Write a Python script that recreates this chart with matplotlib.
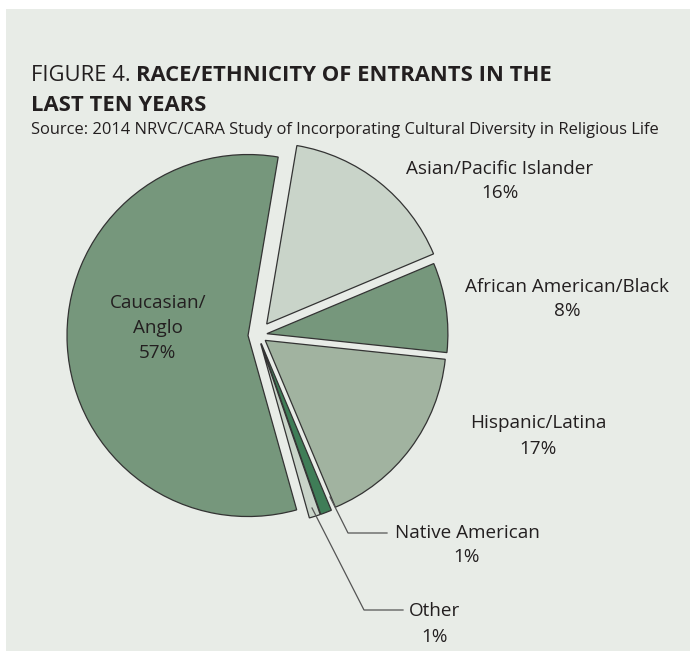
import matplotlib.pyplot as plt

# data, clockwise from the top
labels = ["Asian/Pacific Islander", "African American/Black", "Hispanic/Latina",
          "Native American", "Other", "Caucasian/\nAnglo"]
shares = [16, 8, 17, 1, 1, 57]
colors = ["#c9d4c9", "#76977c", "#a1b3a0", "#3f7d57", "#c9d4c9", "#76977c"]

BG = "#e8ece7"
INK = "#231f20"
W, H = 695, 651

plt.rcParams["font.family"] = ["Open Sans", "DejaVu Sans"]

fig = plt.figure(figsize=(W / 100, H / 100), dpi=100, facecolor="white")
fig.patches.append(plt.Rectangle((6 / W, 0), (690 - 6) / W, (H - 9) / H,
                                 transform=fig.transFigure, facecolor=BG,
                                 edgecolor="none", zorder=-5))

ax = fig.add_axes([0, 0, 1, 1])
ax.axis("off")

ax.pie(shares, colors=colors, startangle=80.4, counterclock=False,
       center=(258, H - 335), radius=181,
       explode=[14, 9, 9, 9, 9, 10],
       wedgeprops=dict(edgecolor="#333333", linewidth=0.9))
ax.set_xlim(0, W)
ax.set_ylim(0, H)
ax.set_aspect("auto")

lab_kw = dict(ha="center", va="center", fontsize=13.6, color=INK, linespacing=1.5)
ax.text(158, H - 328, f"{labels[5]}\n{shares[5]}%", **lab_kw)
ax.text(500, H - 181, f"{labels[0]}\n{shares[0]}%", **lab_kw)
ax.text(567, H - 299, f"{labels[1]}\n{shares[1]}%", **lab_kw)
ax.text(538, H - 436, f"{labels[2]}\n{shares[2]}%", **lab_kw)
ax.text(467, H - 545, f"{labels[3]}\n{shares[3]}%", **lab_kw)
ax.text(435, H - 624, f"{labels[4]}\n{shares[4]}%", **lab_kw)

# leader lines
ax.plot([330, 348, 387], [H - 497, H - 533, H - 533], color="#555555", lw=0.9)
ax.plot([312, 364, 403], [H - 508, H - 610, H - 610], color="#555555", lw=0.9)

# title
t1 = fig.text(31 / W, 1 - 81 / H, "FIGURE 4. ", fontsize=15.8, color=INK)
ax.annotate("RACE/ETHNICITY OF ENTRANTS IN THE", xy=(1, 0), xycoords=t1,
            fontsize=15.8, fontweight="bold", color=INK, va="bottom")
fig.text(31 / W, 1 - 111 / H, "LAST TEN YEARS", fontsize=15.8,
         fontweight="bold", color=INK)
fig.text(31 / W, 1 - 134 / H,
         "Source: 2014 NRVC/CARA Study of Incorporating Cultural Diversity in Religious Life",
         fontsize=11.9, color=INK)

fig.savefig("out.png", dpi=100, facecolor="white")
